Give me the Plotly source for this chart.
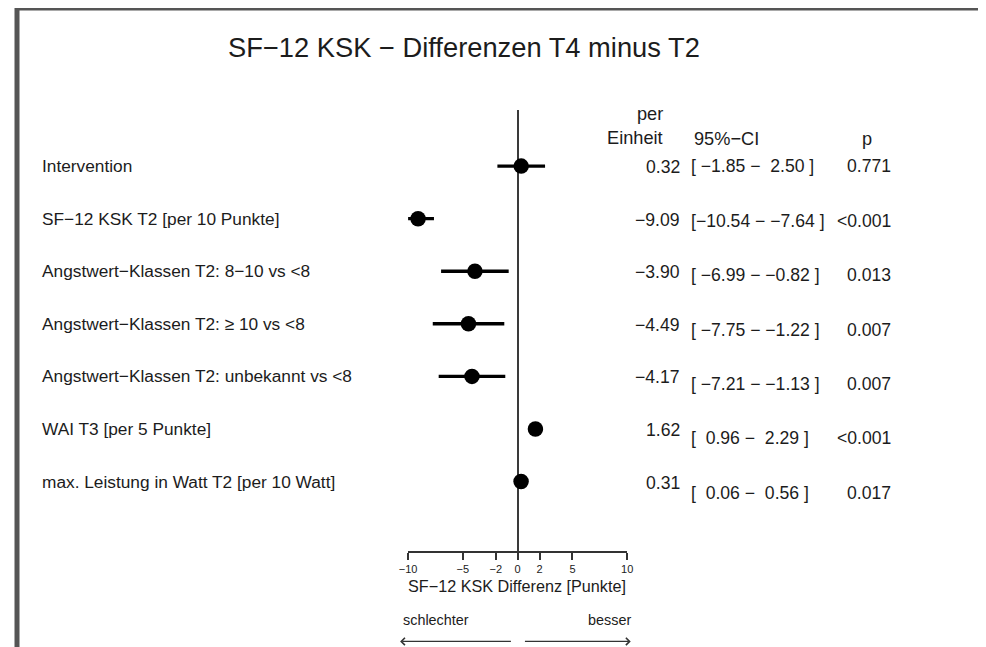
import plotly.graph_objects as go

# Daten
labels = [
    "Intervention",
    "SF\u221212 KSK T2 [per 10 Punkte]",
    "Angstwert\u2212Klassen T2: 8\u221210 vs <8",
    "Angstwert\u2212Klassen T2: \u2265 10 vs <8",
    "Angstwert\u2212Klassen T2: unbekannt vs <8",
    "WAI T3 [per 5 Punkte]",
    "max. Leistung in Watt T2 [per 10 Watt]",
]
estimate = [0.32, -9.09, -3.90, -4.49, -4.17, 1.62, 0.31]
ci_low = [-1.85, -10.54, -6.99, -7.75, -7.21, 0.96, 0.06]
ci_high = [2.50, -7.64, -0.82, -1.22, -1.13, 2.29, 0.56]
p_text = ["0.771", "<0.001", "0.013", "0.007", "0.007", "<0.001", "0.017"]
tick_vals = [-10, -5, -2, 0, 2, 5, 10]

W, H = 986, 647
FONT = "Liberation Sans, Arial, sans-serif"
INK = "#1c1c1c"
rows = list(range(len(labels)))

# Bildpixel -> paper-Koordinaten (gemessene Abbildung der Seite)
OX, SX, OY, SY = 18.0, 0.982, 14.0, 0.974


def px(x):
    return (x - OX) / SX / W


def py(y):
    return 1 - (y - OY) / SY / H


def fmt(v, w=0):
    s = f"{v:{w}.2f}".replace("-", "\u2212")
    return s.replace(" ", "\u00a0")


fig = go.Figure()

# Konfidenzintervalle
for i in rows:
    fig.add_trace(go.Scatter(
        x=[ci_low[i], ci_high[i]], y=[i, i], mode="lines",
        line=dict(color="black", width=3.4), showlegend=False,
        hoverinfo="skip"))

fig.add_trace(go.Scatter(
    x=estimate, y=rows, mode="markers",
    marker=dict(color="black", size=15.5),
    showlegend=False))

# Zeilen ab 168px, 51.2px Abstand; Zeichenfläche 113px bis 543px
row_top = (113 - 168) / 51.2
row_bot = (543 - 168) / 51.2
x0_px, x1_px = 408, 626.5


def xdata(s):
    return (s - (x0_px + x1_px) / 2) / ((x1_px - x0_px) / 20)


fig.update_layout(
    width=W, height=H, autosize=False,
    margin=dict(l=0, r=0, t=0, b=0, pad=0),
    paper_bgcolor="white", plot_bgcolor="white",
    font=dict(family=FONT, color=INK, size=17.6),
    xaxis=dict(
        domain=[px(x0_px), px(x1_px)], range=[-10, 10],
        tickvals=tick_vals, ticks="outside", ticklen=7, tickwidth=1.5,
        tickcolor="#333", showline=True, linecolor="#333", linewidth=1.5,
        showgrid=False, zeroline=True, zerolinecolor="#3a3a3a",
        zerolinewidth=1.5, tickfont=dict(size=11), anchor="y",
        fixedrange=True),
    yaxis=dict(
        domain=[py(543), py(113)], range=[row_bot, row_top],
        showticklabels=False, showgrid=False, zeroline=False,
        showline=False, ticks="", fixedrange=True),
)

ann = []
ann.append(dict(text="SF\u221212 KSK \u2212 Differenzen T4 minus T2",
                x=px(464), y=py(35), xref="paper", yref="paper",
                showarrow=False, font=dict(size=27.3)))

for i in rows:
    ann.append(dict(text=labels[i], x=px(41), y=i, xref="paper", yref="y",
                    xanchor="left", showarrow=False, font=dict(size=17.3)))
    ann.append(dict(text=fmt(estimate[i]), x=px(681), y=i, xref="paper",
                    yref="y", xanchor="right", showarrow=False, yshift=-1))
    ci = "[" + fmt(ci_low[i], 6) + "\u00a0\u2212\u00a0" + fmt(ci_high[i], 5) + "\u00a0]"
    ann.append(dict(text=ci, x=px(688), y=i, xref="paper", yref="y",
                    xanchor="left", showarrow=False, yshift=-1.9 * i))
    ann.append(dict(text=p_text[i], x=px(892), y=i, xref="paper", yref="y",
                    xanchor="right", showarrow=False, yshift=-1.9 * i))

# Spaltenköpfe und Achsenbeschriftung
hdr = dict(size=18.2)
ann += [
    dict(text="per", x=px(664), y=py(106), xref="paper", yref="paper",
         showarrow=False, font=hdr),
    dict(text="Einheit", x=px(664), y=py(129), xref="paper", yref="paper",
         showarrow=False, font=hdr),
    dict(text="95%\u2212CI", x=px(760), y=py(130), xref="paper", yref="paper",
         showarrow=False, font=hdr),
    dict(text="p", x=px(873), y=py(130), xref="paper", yref="paper",
         showarrow=False, font=hdr),
    dict(text="SF\u221212 KSK Differenz [Punkte]", x=px(517), y=py(588),
         xref="paper", yref="paper", showarrow=False, font=dict(size=16.2)),
    dict(text="schlechter", x=px(401), y=py(620), xref="paper", yref="paper",
         xanchor="left", showarrow=False, font=dict(size=14.4)),
    dict(text="besser", x=px(632), y=py(620), xref="paper", yref="paper",
         xanchor="right", showarrow=False, font=dict(size=14.4)),
    # Pfeile
    dict(text="", x=xdata(400), y=py(631), xref="x", yref="paper",
         ax=xdata(512), ay=0, axref="x", ayref="pixel", showarrow=True,
         arrowhead=4, arrowsize=1.1, arrowwidth=1.3, arrowcolor="#333"),
    dict(text="", x=xdata(630), y=py(631), xref="x", yref="paper",
         ax=xdata(523), ay=0, axref="x", ayref="pixel", showarrow=True,
         arrowhead=4, arrowsize=1.1, arrowwidth=1.3, arrowcolor="#333"),
]
fig.update_layout(annotations=ann)

# Rahmen oben und links (am Rand der Seite)
fig.add_shape(type="line", xref="paper", yref="paper", x0=0, x1=1,
              y0=1, y1=1, line=dict(color="#555", width=5))
fig.add_shape(type="line", xref="paper", yref="paper", x0=0, x1=0,
              y0=1, y1=0, line=dict(color="#555", width=5))

fig.write_html("out.html")
